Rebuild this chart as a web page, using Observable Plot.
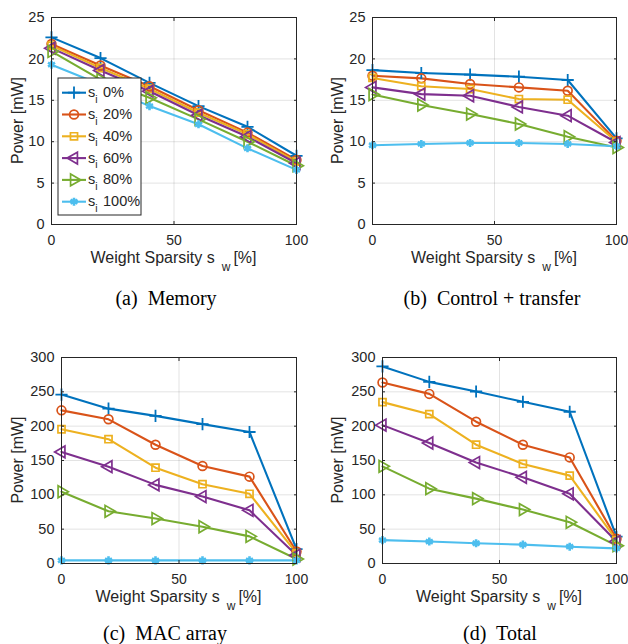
<!DOCTYPE html>
<html>
<head>
<meta charset="utf-8">
<script src="https://cdn.jsdelivr.net/npm/d3@7"></script>
<script src="https://cdn.jsdelivr.net/npm/@observablehq/plot@0.6"></script>
<style>
  html, body { margin: 0; padding: 0; background: #fff; }
  #root { position: relative; width: 628px; height: 644px; background: #fff; overflow: hidden; }
  .panel { position: absolute; }
  .caption { position: absolute; font-family: "Liberation Serif", "Times New Roman", serif; font-size: 20px; color: #000; white-space: pre; transform: translateX(-50%); line-height: 1; }
</style>
</head>
<body>
<div id="root"></div>
<script>
// ---- data ----
const sparsityW = [0, 20, 40, 60, 80, 100];
const seriesNames = ["0%", "20%", "40%", "60%", "80%", "100%"];
const xTicks = [0, 50, 100];
const yTicksSmall = [0, 5, 10, 15, 20, 25];
const yTicksLarge = [0, 50, 100, 150, 200, 250, 300];
const captions = ["(a)  Memory", "(b)  Control + transfer", "(c)  MAC array", "(d)  Total"];

const memory = [
  [22.6, 20.1, 17.1, 14.3, 11.8, 8.3],
  [21.8, 19.2, 16.7, 13.8, 11.1, 7.8],
  [21.6, 18.9, 16.4, 13.5, 10.9, 7.6],
  [21.3, 18.6, 16.1, 13.2, 10.6, 7.4],
  [20.9, 17.5, 15.3, 12.7, 10.0, 7.1],
  [19.3, 16.9, 14.3, 12.1, 9.2, 6.6]
];
const controlTransfer = [
  [18.65, 18.3, 18.1, 17.85, 17.45, 10.4],
  [17.97, 17.65, 16.96, 16.56, 16.16, 10.1],
  [17.7, 16.7, 16.36, 15.15, 15.07, 10.0],
  [16.56, 15.75, 15.55, 14.2, 13.14, 9.9],
  [15.7, 14.43, 13.34, 12.14, 10.6, 9.3],
  [9.57, 9.73, 9.85, 9.85, 9.73, 9.45]
];
const macArray = [
  [246, 225.5, 215, 203, 191.5, 21],
  [223, 210, 173, 142, 126.5, 17.5],
  [195.5, 181, 139.5, 115.5, 101.5, 15],
  [162.5, 141, 114.5, 97.5, 77.5, 12],
  [104.5, 76, 65.5, 53.5, 39.5, 6.5],
  [4.5, 4.5, 4.5, 4.5, 4.5, 4.5]
];
const total = [
  [287, 264.5, 250.5, 235.5, 221, 39],
  [263.5, 247, 206.5, 173, 154.5, 36],
  [235, 217.5, 173, 145, 128, 34],
  [201.5, 175.5, 147, 125.5, 101.5, 32],
  [141.5, 109, 94.5, 78.5, 60, 26],
  [34, 32, 29.5, 27.5, 24.5, 22]
];

// ---- styles ----
const colors = ["#0072BD", "#D95319", "#EDB120", "#7E2F8E", "#77AC30", "#4DBEEE"];
const symbols = ["plus", "circle", "square", "triangle", "triangle", "asterisk"];
const rotations = [0, 0, 0, -90, 90, 0];
const markerR = [4.0, 4.4, 4.0, 4.4, 4.4, 3.8];
const markerW = [1.8, 1.7, 1.7, 1.7, 1.7, 2.6];
const d3Symbols = {plus: d3.symbolPlus, circle: d3.symbolCircle, square: d3.symbolSquare, triangle: d3.symbolTriangle, asterisk: d3.symbolAsterisk};
const textColor = "#262626";
const sansFont = "'Liberation Sans', Arial, Helvetica, sans-serif";

const root = document.getElementById("root");

function panel(values, opts) {
  const data = [];
  values.forEach((row, si) => row.forEach((v, xi) => data.push({x: sparsityW[xi], y: v, s: seriesNames[si], si})));
  const yt = opts.yTicks;
  const dotMarks = seriesNames.map((name, si) =>
    Plot.dot(data.filter(d => d.si === si), {x: "x", y: "y", stroke: "s", symbol: "s", fill: "none",
      r: markerR[si], strokeWidth: markerW[si], rotate: rotations[si]}));
  const chart = Plot.plot({
    width: 314, height: 280,
    marginLeft: opts.mL, marginRight: opts.mR, marginTop: opts.mT, marginBottom: opts.mB,
    style: {fontFamily: sansFont, fontSize: "14.5px", color: textColor, background: "transparent", overflow: "visible"},
    x: {domain: [0, 100]},
    y: {domain: [0, yt[yt.length - 1]]},
    color: {domain: seriesNames, range: colors},
    symbol: {domain: seriesNames, range: symbols},
    marks: [
      Plot.gridX(xTicks, {stroke: textColor, strokeOpacity: 0.13}),
      Plot.gridY(yt, {stroke: textColor, strokeOpacity: 0.13}),
      Plot.line(data, {x: "x", y: "y", z: "s", stroke: "s", strokeWidth: 2.1}),
      ...dotMarks,
      Plot.axisX(xTicks, {anchor: "bottom", tickSize: -3, tickPadding: 13.5, label: null, fontSize: 14}),
      Plot.axisX(xTicks, {anchor: "top", tickSize: -3, tickFormat: () => "", label: null}),
      Plot.axisY(yt, {anchor: "left", tickSize: -3, tickPadding: 10, label: null, fontSize: 14.5}),
      Plot.axisY(yt, {anchor: "right", tickSize: -3, tickFormat: () => "", label: null}),
      Plot.frame({stroke: textColor, strokeWidth: 1})
    ]
  });
  const wrap = document.createElement("div");
  wrap.className = "panel";
  wrap.style.left = opts.left + "px";
  wrap.style.top = opts.top + "px";
  wrap.appendChild(chart);
  root.appendChild(wrap);

  const svg = d3.select(chart);
  const plotCx = opts.mL + (314 - opts.mL - opts.mR) / 2;
  const plotBottom = 280 - opts.mB;
  const plotCy = opts.mT + (plotBottom - opts.mT) / 2;

  // y label
  svg.append("text")
    .attr("transform", `translate(${opts.ylabX},${plotCy}) rotate(-90)`)
    .attr("text-anchor", "middle")
    .attr("dy", "0.35em")
    .attr("font-family", sansFont).attr("font-size", 16).attr("fill", textColor)
    .text("Power [mW]");
  // x label with subscript
  const xl = svg.append("text")
    .attr("x", plotCx).attr("y", plotBottom + 39)
    .attr("text-anchor", "middle")
    .attr("font-family", sansFont).attr("font-size", 16).attr("fill", textColor);
  xl.append("tspan").text("Weight Sparsity s");
  xl.append("tspan").attr("dx", 7).attr("dy", 8).attr("font-size", 12).text("w");
  xl.append("tspan").attr("dx", 3).attr("dy", -8).text("[%]");

  // caption
  const cap = document.createElement("div");
  cap.className = "caption";
  cap.textContent = opts.caption;
  cap.style.left = opts.capX + "px";
  cap.style.top = opts.capY + "px";
  root.appendChild(cap);
  return svg;
}

const svgA = panel(memory, {yTicks: yTicksSmall, left: 0, top: 0, mL: 51, mR: 18, mT: 17, mB: 56, ylabX: 17, caption: captions[0], capX: 166, capY: 288});
panel(controlTransfer, {yTicks: yTicksSmall, left: 314, top: 0, mL: 58, mR: 12, mT: 17, mB: 56, ylabX: 23, caption: captions[1], capX: 492, capY: 288});
panel(macArray, {yTicks: yTicksLarge, left: 0, top: 340, mL: 61, mR: 18, mT: 17, mB: 57, ylabX: 17, caption: captions[2], capX: 165, capY: 623});
panel(total, {yTicks: yTicksLarge, left: 314, top: 340, mL: 68, mR: 12, mT: 17, mB: 57, ylabX: 23, caption: captions[3], capX: 500, capY: 623});

// legend in panel (a)
const lg = svgA.append("g").attr("text-anchor", "start");
lg.append("rect").attr("x", 58).attr("y", 78).attr("width", 83).attr("height", 137)
  .attr("fill", "#fff").attr("stroke", textColor).attr("stroke-width", 1);
seriesNames.forEach((name, i) => {
  const cy = 92.7 + i * 21.8;
  const g = lg.append("g");
  g.append("line").attr("x1", 62).attr("x2", 86).attr("y1", cy).attr("y2", cy)
    .attr("stroke", colors[i]).attr("stroke-width", 2.1);
  g.append("path")
    .attr("d", d3.symbol(d3Symbols[symbols[i]], Math.PI * markerR[i] * markerR[i])())
    .attr("transform", `translate(74,${cy}) rotate(${rotations[i]})`)
    .attr("fill", "none").attr("stroke", colors[i]).attr("stroke-width", markerW[i]);
  const t = g.append("text").attr("x", 88).attr("y", cy + 4.5).attr("text-anchor", "start")
    .attr("font-family", sansFont).attr("font-size", 14.5).attr("fill", textColor);
  t.append("tspan").text("s");
  t.append("tspan").attr("dy", 5.5).attr("font-size", 10.5).text("i");
  t.append("tspan").attr("x", 103).attr("dy", -5.5).text(name);
});
</script>
</body>
</html>
